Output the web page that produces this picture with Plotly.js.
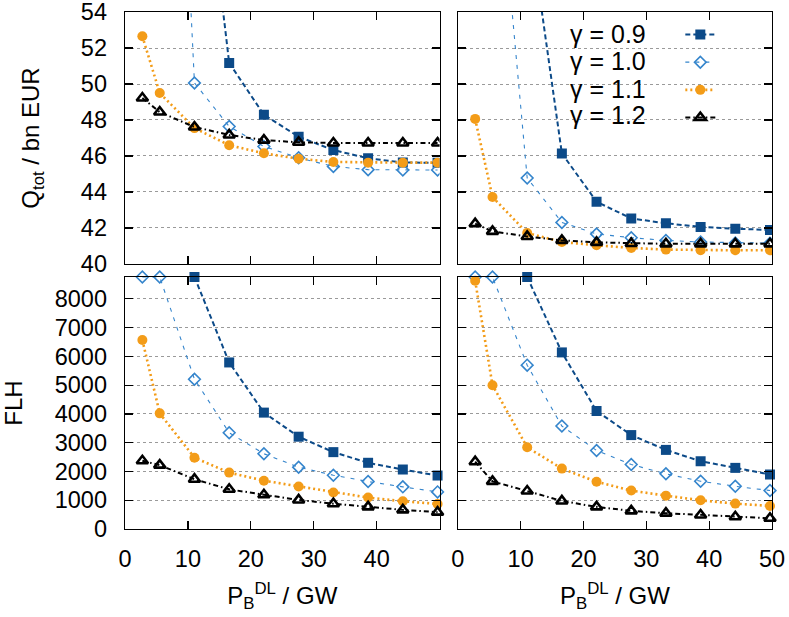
<!DOCTYPE html>
<html>
<head>
<meta charset="utf-8">
<script src="https://cdn.plot.ly/plotly-3.0.1.min.js"></script>
<style>html,body{margin:0;padding:0;background:#fff}#chart{width:789px;height:617px}</style>
</head>
<body>
<div id="chart"></div>
<script>
// x values: P_B^DL in GW
const pbdl = [2.76, 5.52, 11.04, 16.56, 22.08, 27.6, 33.12, 38.64, 44.16, 49.68];
const gammaNames = ['γ = 0.9', 'γ = 1.0', 'γ = 1.1', 'γ = 1.2'];
const xTicksLeft = [0, 10, 20, 30, 40];
const xTicksRight = [0, 10, 20, 30, 40, 50];
const qTicks = [40, 42, 44, 46, 48, 50, 52, 54];
const flhTicks = [0, 1000, 2000, 3000, 4000, 5000, 6000, 7000, 8000];

// Q_tot / bn EUR, left column
const qLeft09 = [null, null, 67.5, 51.17, 48.29, 47.07, 46.33, 45.87, 45.64, 45.62];
const qLeft10 = [null, 90.0, 50.06, 47.64, 46.53, 45.90, 45.42, 45.24, 45.22, 45.22];
const qLeft11 = [52.65, 49.50, 47.55, 46.60, 46.15, 45.85, 45.67, 45.63, 45.63, 45.63];
const qLeft12 = [49.22, 48.44, 47.61, 47.17, 46.88, 46.76, 46.72, 46.72, 46.72, 46.72];
// Q_tot / bn EUR, right column
const qRight09 = [null, null, 59.8, 46.14, 43.46, 42.53, 42.26, 42.06, 41.96, 41.89];
const qRight10 = [null, 66.0, 44.78, 42.31, 41.67, 41.46, 41.31, 41.22, 41.17, 41.16];
const qRight11 = [48.06, 43.72, 41.72, 41.22, 41.04, 40.89, 40.80, 40.77, 40.76, 40.76];
const qRight12 = [42.24, 41.81, 41.53, 41.31, 41.20, 41.14, 41.12, 41.12, 41.12, 41.12];
// FLH, left column
const flhLeft09 = [null, null, 8760, 5790, 4046, 3209, 2672, 2302, 2068, 1859];
const flhLeft10 = [8760, 8760, 5208, 3348, 2616, 2149, 1870, 1650, 1465, 1290];
const flhLeft11 = [6570, 4020, 2480, 1960, 1680, 1480, 1266, 1092, 963, 872];
const flhLeft12 = [2370, 2220, 1730, 1380, 1190, 1010, 880, 770, 665, 585];
// FLH, right column
const flhRight09 = [null, null, 8760, 6139, 4102, 3265, 2750, 2355, 2125, 1894];
const flhRight10 = [8760, 8760, 5696, 3579, 2731, 2243, 1918, 1660, 1486, 1336];
const flhRight11 = [8630, 5000, 2840, 2100, 1640, 1336, 1160, 998, 882, 802];
const flhRight12 = [2340, 1655, 1320, 975, 770, 630, 550, 485, 425, 372];

const styles = [
  {color: '#0c4a88', dash: '5px,3px', width: 2, symbol: 'square', size: 10, mline: 0},
  {color: '#3585cc', dash: '4px,6px', width: 1.1, symbol: 'diamond-open', size: 9, mline: 1.6},
  {color: '#f39c18', dash: '2px,3px', width: 2.6, symbol: 'circle', size: 10, mline: 0},
  {color: '#000000', dash: '5px,3px,1.5px,3px', width: 2, symbol: 'triangle-up-open', size: 10, mline: 2.6}
];

function mk(x, y, i, xa, ya, showLegend, clip) {
  const s = styles[i];
  return {
    type: 'scatter', mode: 'lines+markers', x: x, y: y,
    xaxis: xa, yaxis: ya, name: '\u00a0', legendgroup: 'g' + i, showlegend: showLegend,
    cliponaxis: clip, connectgaps: false,
    line: {color: s.color, dash: s.dash, width: s.width},
    marker: {symbol: s.symbol, size: s.size, color: s.color, line: {color: s.color, width: s.mline}}
  };
}

const data = [];
const qL = [qLeft09, qLeft10, qLeft11, qLeft12];
const qR = [qRight09, qRight10, qRight11, qRight12];
const fL = [flhLeft09, flhLeft10, flhLeft11, flhLeft12];
const fR = [flhRight09, flhRight10, flhRight11, flhRight12];
for (let i = 0; i < 4; i++) {
  data.push(mk(pbdl, qL[i], i, 'x', 'y', false, true));
  data.push(mk(pbdl, qR[i], i, 'x2', 'y2', true, true));
  data.push(mk(pbdl, fL[i], i, 'x3', 'y3', false, false));
  data.push(mk(pbdl, fR[i], i, 'x4', 'y4', false, false));
}

const base = {
  showline: true, linecolor: '#000', linewidth: 1.3, mirror: 'ticks',
  ticks: 'inside', ticklen: 8, tickwidth: 1.2, tickcolor: '#000',
  zeroline: false, ticklabelstandoff: 12, ticklabeloverflow: 'allow',
  tickfont: {size: 23.5, color: '#000'}
};
const xBase = Object.assign({}, base, {ticklabelstandoff: 8, showgrid: false, range: [0, 50]});
const gridY = {showgrid: true, gridcolor: '#9a9a9a', gridwidth: 1, griddash: 'dot'};
const xTitle = {text: 'P<sub>B</sub><sup>DL</sup> / GW', font: {size: 24, color: '#000'}, standoff: 16};

const dL = [0, 0.4862], dR = [0.5144, 1], dT = [0.5126, 1], dB = [0, 0.4874];

const layout = {
  width: 789, height: 617,
  margin: {l: 124.7, r: 17.3, t: 12.3, b: 87.7, autoexpand: false},
  paper_bgcolor: '#fff', plot_bgcolor: '#fff',
  font: {family: 'Liberation Sans, Arial, sans-serif', size: 21, color: '#000'},
  showlegend: true,
  legend: {x: 0.8583, xanchor: 'left', y: 0.993, yanchor: 'top', bgcolor: 'rgba(0,0,0,0)',
           font: {size: 19}, tracegroupgap: 0, borderwidth: 0},
  xaxis: Object.assign({}, xBase, {domain: dL, anchor: 'y', tickvals: xTicksRight, showticklabels: false}),
  yaxis: Object.assign({}, base, gridY, {domain: dT, anchor: 'x', range: [40, 54], tickvals: qTicks,
           title: {text: 'Q<sub>tot</sub> / bn EUR', font: {size: 24, color: '#000'}, standoff: 34}}),
  xaxis2: Object.assign({}, xBase, {domain: dR, anchor: 'y2', tickvals: xTicksRight, showticklabels: false}),
  yaxis2: Object.assign({}, base, gridY, {domain: dT, anchor: 'x2', range: [40, 54], tickvals: qTicks, showticklabels: false}),
  xaxis3: Object.assign({}, xBase, {domain: dL, anchor: 'y3', tickvals: xTicksLeft, title: xTitle}),
  yaxis3: Object.assign({}, base, gridY, {domain: dB, anchor: 'x3', range: [0, 8760], tickvals: flhTicks,
           title: {text: 'FLH', font: {size: 24, color: '#000'}, standoff: 26}}),
  xaxis4: Object.assign({}, xBase, {domain: dR, anchor: 'y4', tickvals: xTicksRight, title: xTitle}),
  yaxis4: Object.assign({}, base, gridY, {domain: dB, anchor: 'x4', range: [0, 8760], tickvals: flhTicks, showticklabels: false}),
  shapes: [{type: 'rect', xref: 'paper', yref: 'paper', x0: 0.631, x1: 0.974, y0: 0.782, y1: 1,
            fillcolor: '#fff', line: {width: 0}, layer: 'between'}],
  annotations: gammaNames.map((t, i) => ({
    text: t, xref: 'paper', yref: 'paper', x: 0.8088, xanchor: 'right',
    y: [0.958, 0.9045, 0.8517, 0.8004][i], yanchor: 'middle', showarrow: false,
    font: {size: 25, color: '#000'}
  }))
};

Plotly.newPlot('chart', data, layout, {staticPlot: true, displayModeBar: false});
</script>
</body>
</html>
